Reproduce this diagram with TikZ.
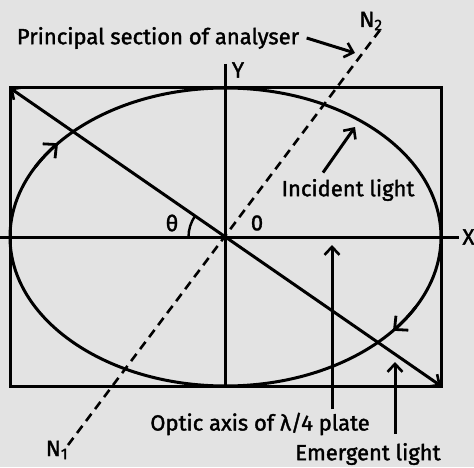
\documentclass[tikz,border=0pt]{standalone}
\usepackage{fontspec}
\setmainfont{Fira Sans}[FakeBold=1.6]
\usetikzlibrary{arrows.meta,positioning}

\begin{document}
\begin{tikzpicture}[x=1pt, y=1pt, line width=3pt,
    >={Straight Barb[length=8pt,width=15pt,line width=2.6pt]},
    font=\fontsize{22}{26}\selectfont,
    lbl/.style={inner sep=2pt},
    sense/.style={-{Straight Barb[length=10pt,width=19pt,line width=2.8pt]}},
    axisN/.style={line width=2.6pt, dash pattern=on 9pt off 6pt}]
    \fill[gray!22] (0,0) rectangle (474,467);
    \useasboundingbox (0,0) rectangle (474,467);

    \coordinate (O) at (225.5,230);
    \coordinate (A) at (10,379);
    \coordinate (C) at (441,81);
    \coordinate (n1) at (68,22);
    \coordinate (n2) at (380,437);

    % plate and vibration ellipse
    \draw (10,81) rectangle (441,379);
    \draw (O) ellipse [x radius=215.5, y radius=149];
    \draw[sense] (O) ++(152:215.5 and 149) arc[start angle=152, end angle=141, x radius=215.5, y radius=149];
    \draw[sense] (O) ++(-28:215.5 and 149) arc[start angle=-28, end angle=-39, x radius=215.5, y radius=149];

    % axes
    \node[lbl, anchor=west] (X) at (459,230) {X};
    \node[lbl] (Y) at (238,397) {Y};
    \draw (0,230) -- (X.west);
    \draw (225.5,403) -- (225.5,81);
    \draw[<->] (A) -- (C);
    \draw[line width=2.4pt] (O) ++(180:37) arc[start angle=180, end angle=145.3, radius=37];
    \node[lbl] (th) at (172,244) {θ};
    \node[lbl] (o) at (257,244) {0};

    % analyser section
    \draw[axisN] (n1) -- (n2);
    \node[lbl] (N1) at (57,17) {N\textsubscript{1}};
    \node[lbl] (N2) at (371,446) {N\textsubscript{2}};

    % labels with arrows
    \node[lbl] (ps) at (158,429) {Principal section of analyser};
    \coordinate (pstip) at (355,414);
    \draw[->] ([xshift=4pt]ps.east) -- (pstip);

    \node[lbl] (inc) at (348,277) {Incident light};
    \coordinate (inctip) at (355,340);
    \draw[->] ([xshift=-25pt,yshift=3pt]inc.north) -- (inctip);

    \node[lbl] (opt) at (260,43) {Optic axis of λ/4 plate};
    \coordinate (opttip) at (332,222);
    \draw[->] (opttip |- opt.north) -- (opttip);

    \node[lbl] (em) at (368,13) {Emergent light};
    \coordinate (emtip) at (395,105);
    \draw[->, shorten <=6pt] (emtip |- em.north) -- (emtip);
\end{tikzpicture}
\end{document}
